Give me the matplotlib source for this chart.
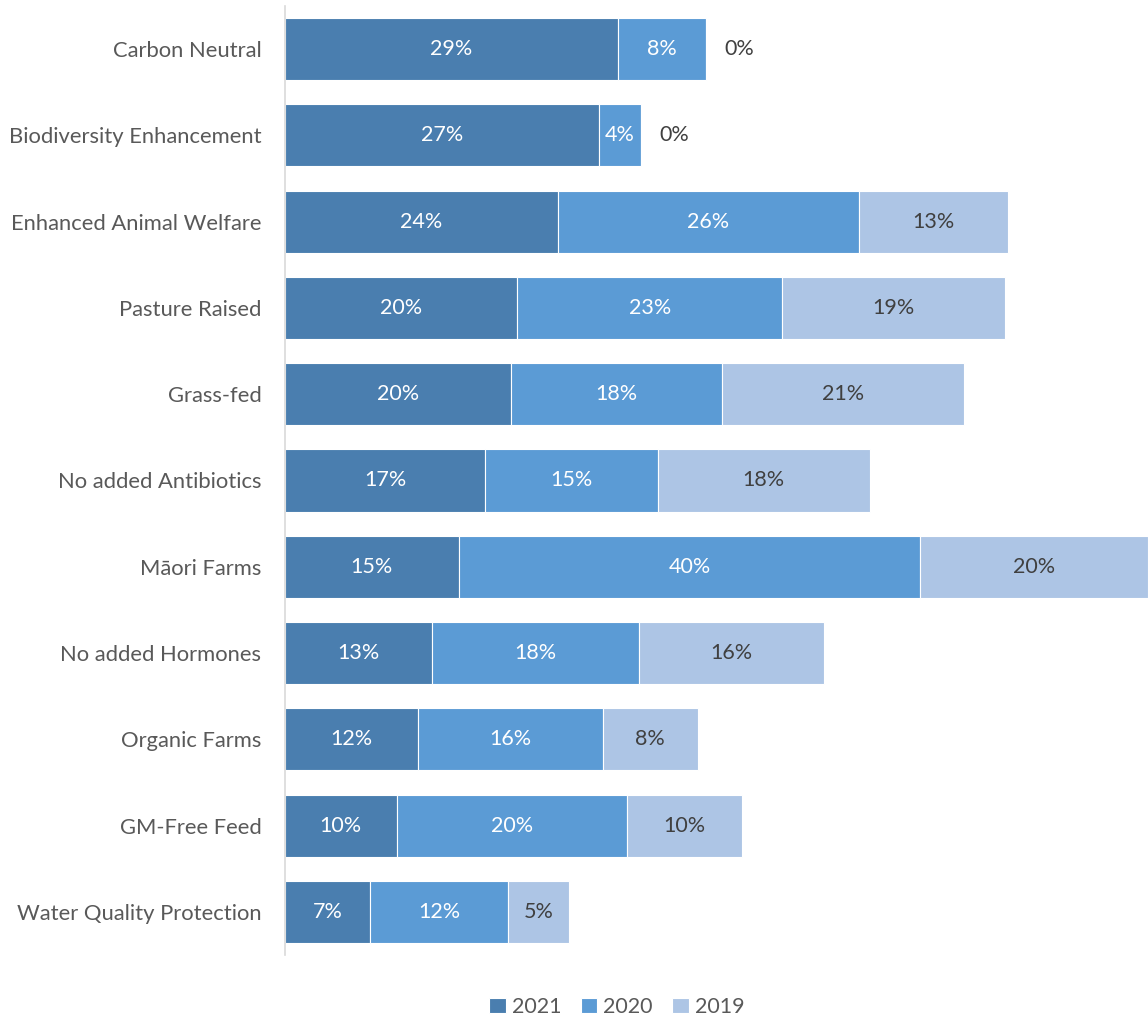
import numpy as np
import matplotlib.pyplot as plt

# ==================================================
# DATA (percent of respondents)
# ==================================================
categories = [
    "Carbon Neutral",
    "Biodiversity Enhancement",
    "Enhanced Animal Welfare",
    "Pasture Raised",
    "Grass-fed",
    "No added Antibiotics",
    "Māori Farms",
    "No added Hormones",
    "Organic Farms",
    "GM-Free Feed",
    "Water Quality Protection",
]
years = ["2021", "2020", "2019"]
v2021 = [28.9, 27.3, 23.7, 20.2, 19.6, 17.4, 15.1, 12.8, 11.6, 9.7, 7.4]
v2020 = [7.7, 3.6, 26.2, 23.0, 18.4, 15.0, 40.1, 18.0, 16.0, 20.0, 12.0]
v2019 = [0.0, 0.0, 12.9, 19.4, 21.0, 18.4, 19.8, 16.0, 8.3, 10.0, 5.3]

colors = ["#4A7EAF", "#5B9BD5", "#ADC5E5"]
label_colors = ["white", "white", "#404040"]

plt.rcParams["font.family"] = ["Lato", "DejaVu Sans"]

fig = plt.figure(figsize=(11.48, 10.23), dpi=100)
ax = fig.add_axes([285 / 1148, 1 - 955 / 1023, 1 - 285 / 1148, 949 / 1023])

y = np.arange(len(categories))
left = np.zeros(len(categories))
for vals, col, lc, yr in zip([v2021, v2020, v2019], colors, label_colors, years):
    vals = np.array(vals)
    bars = ax.barh(y, vals, left=left, height=0.72, color=col,
                   edgecolor="white", linewidth=0.8, label=yr)
    for b, v, l in zip(bars, vals, left):
        if v > 0:
            ax.text(l + v / 2, b.get_y() + b.get_height() / 2, f"{v:.0f}%",
                    ha="center", va="center", color=lc, fontsize=15.5)
        else:
            ax.text(l + 1.6, b.get_y() + b.get_height() / 2, f"{v:.0f}%",
                    ha="left", va="center", color="#404040", fontsize=15.5)
    left = left + vals

ax.set_xlim(0, 75)
ax.set_ylim(len(categories) - 0.5, -0.5)
ax.set_yticks(y)
ax.set_yticklabels(categories, fontsize=15.8, color="#595959")
ax.tick_params(axis="y", length=0, pad=17)
ax.set_xticks([])
for s in ["top", "right", "bottom"]:
    ax.spines[s].set_visible(False)
ax.spines["left"].set_color("#D9D9D9")
ax.spines["left"].set_linewidth(1.2)

fig.legend(loc="center", bbox_to_anchor=(617 / 1148, 1 - 1007 / 1023), ncol=3,
           frameon=False, fontsize=15.5, labelcolor="#595959",
           handlelength=0.75, handleheight=0.75, handletextpad=0.3,
           columnspacing=0.9)

fig.savefig("out.png", dpi=100)
